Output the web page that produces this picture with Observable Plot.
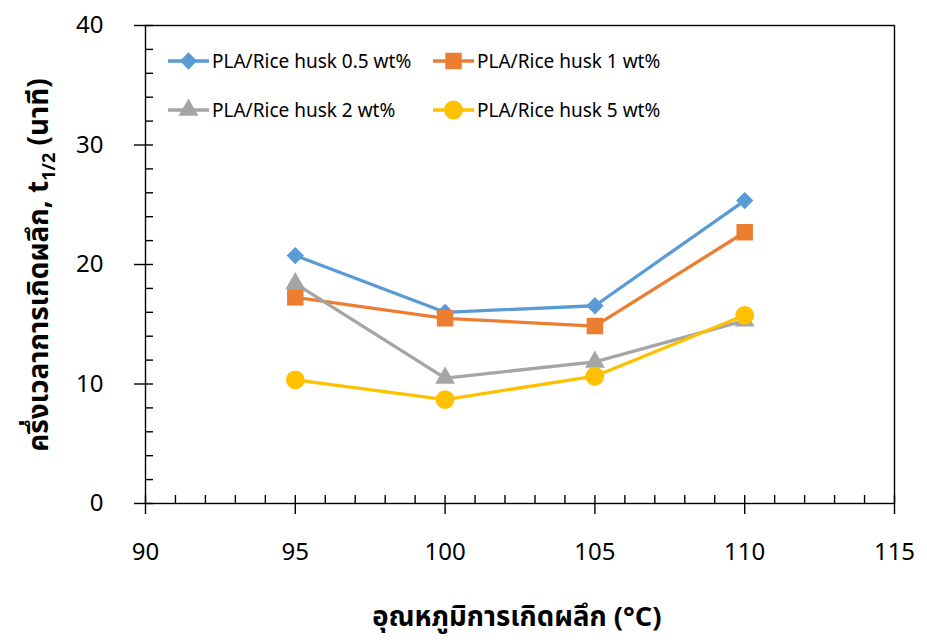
<!DOCTYPE html>
<html><head><meta charset="utf-8">
<script src="https://cdn.jsdelivr.net/npm/d3@7"></script>
<script src="https://cdn.jsdelivr.net/npm/@observablehq/plot@0.6"></script>
<style>
body{margin:0;background:#fff;}
#chart svg{font-family:"Noto Sans Thai","Leelawadee UI","Tahoma","Noto Sans",sans-serif;}
</style>
</head><body><div id="chart"></div>
<script>
const temps = [95, 100, 105, 110];
const seriesNames = ["PLA/Rice husk 0.5 wt%", "PLA/Rice husk 1 wt%", "PLA/Rice husk 2 wt%", "PLA/Rice husk 5 wt%"];
const husk05 = [20.75, 16.0, 16.55, 25.35];
const husk1 = [17.25, 15.5, 14.85, 22.7];
const husk2 = [18.4, 10.5, 11.85, 15.3];
const husk5 = [10.35, 8.7, 10.65, 15.75];
const xTicks = [90, 95, 100, 105, 110, 115];
const yTicks = [0, 10, 20, 30, 40];
const xMinor = [91,92,93,94,96,97,98,99,101,102,103,104,106,107,108,109,111,112,113,114];
const yMinor = [2,4,6,8,12,14,16,18,22,24,26,28,32,34,36,38];
const colors = ["#5B9BD5", "#ED7D31", "#A5A5A5", "#FFC000"];
const symbols = ["diamond2", "square", "triangle", "circle"];
const radii = [7.8, 9.3, 7.4, 9.4];
const xTitle = "อุณหภูมิการเกิดผลึก (°C)";
const yTitleMain = "ครึ่งเวลาการเกิดผลึก, t";
const yTitleSub = "1/2";
const yTitleEnd = " (นาที)";

const allSeries = [husk05, husk1, husk2, husk5];
const rows = allSeries.map((vals, s) => temps.map((t, i) => ({series: seriesNames[s], idx: s, x: t, y: vals[i]})));

const marks = [
  Plot.frame({stroke: "#000", strokeWidth: 1.4}),
  Plot.ruleX(xTicks, {x: d => d, y1: yTicks[0], y2: yTicks[0], insetTop: -8, insetBottom: -11, stroke: "#000", strokeWidth: 1.4}),
  Plot.ruleX(xMinor, {x: d => d, y1: yTicks[0], y2: yTicks[0], insetTop: -8, stroke: "#000", strokeWidth: 1.4}),
  Plot.ruleY(yTicks, {y: d => d, x1: xTicks[0], x2: xTicks[0], insetLeft: -11, insetRight: -8, stroke: "#000", strokeWidth: 1.4}),
  Plot.ruleY(yMinor, {y: d => d, x1: xTicks[0], x2: xTicks[0], insetRight: -8, stroke: "#000", strokeWidth: 1.4}),
  Plot.axisX({ticks: xTicks, tickSize: 0, tickPadding: 39, fontSize: 24, tickFormat: d => String(d), label: null, fill: "#000"}),
  Plot.axisY({ticks: yTicks, tickSize: 0, tickPadding: 42, fontSize: 24, tickFormat: d => String(d), label: null, fill: "#000"})
];
rows.forEach((data, s) => {
  marks.push(Plot.line(data, {x: "x", y: "y", stroke: colors[s], strokeWidth: 3.3}));
});
rows.forEach((data, s) => {
  marks.push(Plot.dot(data, {x: "x", y: "y", symbol: symbols[s], r: radii[s], fill: colors[s], stroke: "none"}));
});

const chart = Plot.plot({
  width: 927, height: 642,
  marginLeft: 145, marginRight: 33, marginTop: 25, marginBottom: 139,
  x: {domain: [xTicks[0], xTicks[xTicks.length - 1]]},
  y: {domain: [yTicks[0], yTicks[yTicks.length - 1]]},
  style: {background: "#fff", color: "#000"},
  marks
});
document.getElementById("chart").appendChild(chart);

const svg = d3.select(chart);
// axis titles
svg.append("text")
  .attr("x", 517).attr("y", 626)
  .attr("text-anchor", "middle")
  .attr("font-size", 27.5).attr("font-weight", "bold").attr("fill", "#000")
  .text(xTitle);
const yt = svg.append("text")
  .attr("transform", "translate(48,265) rotate(-90)")
  .attr("text-anchor", "middle")
  .attr("font-size", 28).attr("font-weight", "bold").attr("fill", "#000");
yt.append("tspan").text(yTitleMain);
yt.append("tspan").attr("dy", 7).attr("font-size", 18).text(yTitleSub);
yt.append("tspan").attr("dy", -7).text(yTitleEnd);

// legend
const symMap = {diamond2: d3.symbolDiamond2, square: d3.symbolSquare, triangle: d3.symbolTriangle, circle: d3.symbolCircle};
const legPos = [[168, 61], [433, 61], [168, 110], [433, 110]];
seriesNames.forEach((name, s) => {
  const [lx, ly] = legPos[s];
  const g = svg.append("g").attr("transform", `translate(${lx},${ly})`);
  g.append("line").attr("x1", 0).attr("x2", 41).attr("y1", 0).attr("y2", 0)
    .attr("stroke", colors[s]).attr("stroke-width", 3.3);
  g.append("path").attr("transform", "translate(20.5,0)")
    .attr("d", d3.symbol(symMap[symbols[s]], Math.PI * radii[s] * radii[s])())
    .attr("fill", colors[s]);
  g.append("text").attr("x", 44).attr("y", 0).attr("dy", "0.35em")
    .attr("text-anchor", "start")
    .attr("font-size", 19).attr("fill", "#000").text(name);
});
</script>
</body></html>
